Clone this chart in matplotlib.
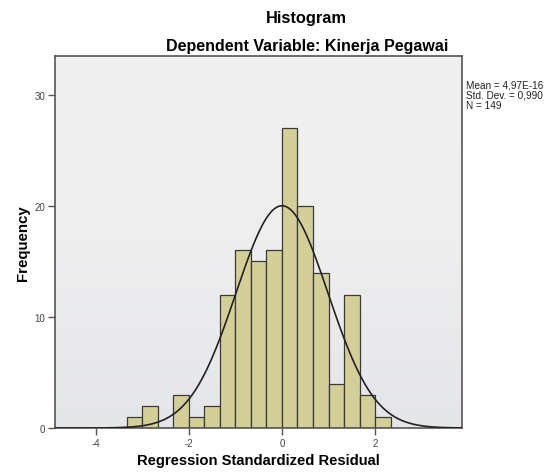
import numpy as np
import matplotlib
matplotlib.use("Agg")
import matplotlib.pyplot as plt
from matplotlib.colors import LinearSegmentedColormap

plt.rcParams['font.family'] = ['Liberation Sans', 'DejaVu Sans']
plt.rcParams['axes.unicode_minus'] = False

# Data
bin_edges = [-10/3, -3.0, -8/3, -7/3, -2.0, -5/3, -4/3, -1.0, -2/3, -1/3, 0.0,
             1/3, 2/3, 1.0, 4/3, 5/3, 2.0, 7/3]
counts = [1, 2, 0, 3, 1, 2, 12, 16, 15, 16, 27, 20, 14, 4, 12, 3, 1]
mean_val = 4.97e-16
std_val = 0.990
n_val = 149
x_ticks = [-4, -2, 0, 2]
y_ticks = [0, 10, 20, 30]

W, H = 553, 477
fig = plt.figure(figsize=(W/100, H/100), dpi=100)
fig.patch.set_facecolor('white')
ax = fig.add_axes([55/W, 1 - 429/H, (462-55)/W, (429-57)/H])
ax.set_facecolor('#ececee')

# subtle background gradient
cmap = LinearSegmentedColormap.from_list('bg', ['#e5e6ea', '#eeeeef', '#f0f0f0'])
grad = np.linspace(0, 1, 256).reshape(-1, 1)
ax.imshow(grad, aspect='auto', cmap=cmap, origin='lower',
          extent=(0, 1, 0, 1), transform=ax.transAxes, zorder=0)

edges = np.array(bin_edges)
widths = np.diff(edges)
ax.bar(edges[:-1], counts, width=widths, align='edge', color='#d4cf98',
       edgecolor='#3a3a3a', linewidth=0.9, zorder=2)

# normal curve
xx = np.linspace(-4.9, 3.9, 400)
bw = widths.mean()
yy = n_val * bw * np.exp(-0.5 * ((xx - mean_val) / std_val) ** 2) / (std_val * np.sqrt(2 * np.pi))
ax.plot(xx, yy, color='#222222', linewidth=1.2, zorder=3)

ax.set_xlim(-4.88, 3.87)
ax.set_ylim(0, 33.5)
ax.set_xticks(x_ticks)
ax.set_yticks(y_ticks)
ax.tick_params(direction='out', length=5, width=1, colors='#555555',
               labelsize=7, labelcolor='#444444', pad=2)
for s in ax.spines.values():
    s.set_color('#555555')
    s.set_linewidth(1.2)

ax.set_xlabel('Regression Standardized Residual', fontsize=10.6, fontweight='bold', labelpad=4)
ax.set_ylabel('Frequency', fontsize=10.8, fontweight='bold', labelpad=3)

fig.text(306/W, 1 - 18/H, 'Histogram', ha='center', va='center',
         fontsize=11.8, fontweight='bold')
fig.text(307/W, 1 - 47/H, 'Dependent Variable: Kinerja Pegawai', ha='center', va='center',
         fontsize=11.5, fontweight='bold')

fig.text(466/W, 1 - 81/H,
         'Mean = 4,97E-16\nStd. Dev. = 0,990\nN = 149',
         ha='left', va='top', fontsize=7.2, linespacing=1.0, color='#222222')

fig.savefig('out.png', dpi=100)
